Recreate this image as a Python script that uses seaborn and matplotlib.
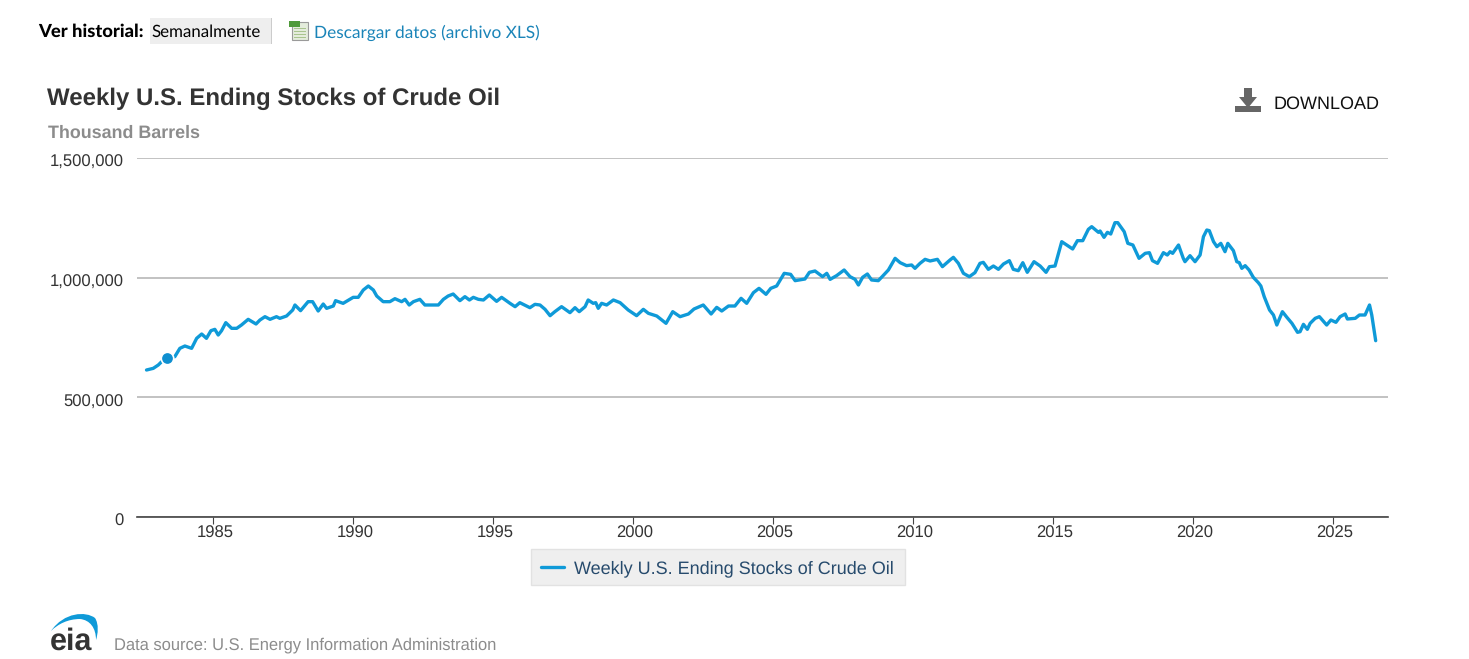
import matplotlib
matplotlib.use("Agg")
import matplotlib.pyplot as plt
import seaborn as sns
from matplotlib.patches import Rectangle, Polygon, PathPatch
from matplotlib.path import Path
from matplotlib.ticker import FuncFormatter
from matplotlib.transforms import ScaledTranslation

# Values: decimal year, thousand barrels
years = [
    1982.63, 1982.87, 1983.05, 1983.17, 1983.35, 1983.64, 1983.82, 1984.00, 1984.24, 1984.42,
    1984.60, 1984.77, 1984.93, 1985.07, 1985.19, 1985.31, 1985.46, 1985.67, 1985.85, 1986.02,
    1986.26, 1986.54, 1986.68, 1986.86, 1987.04, 1987.27, 1987.39, 1987.63, 1987.85, 1987.93,
    1988.13, 1988.40, 1988.56, 1988.76, 1988.94, 1989.06, 1989.30, 1989.38, 1989.65, 1989.89,
    1990.01, 1990.19, 1990.37, 1990.55, 1990.73, 1990.85, 1991.08, 1991.32, 1991.50, 1991.74,
    1991.86, 1992.01, 1992.16, 1992.39, 1992.57, 1992.81, 1993.05, 1993.23, 1993.40, 1993.58,
    1993.82, 1994.00, 1994.16, 1994.30, 1994.48, 1994.66, 1994.87, 1995.13, 1995.31, 1995.61,
    1995.79, 1995.96, 1996.32, 1996.50, 1996.68, 1996.86, 1997.04, 1997.21, 1997.45, 1997.75,
    1997.93, 1998.08, 1998.29, 1998.40, 1998.58, 1998.67, 1998.76, 1998.88, 1999.06, 1999.30,
    1999.54, 1999.83, 2000.13, 2000.37, 2000.55, 2000.85, 2001.18, 2001.42, 2001.68, 2001.98,
    2002.18, 2002.51, 2002.79, 2002.99, 2003.17, 2003.41, 2003.64, 2003.86, 2004.06, 2004.30,
    2004.50, 2004.75, 2004.92, 2005.13, 2005.40, 2005.63, 2005.79, 2006.14, 2006.30, 2006.50,
    2006.77, 2006.92, 2007.04, 2007.27, 2007.54, 2007.75, 2007.93, 2008.05, 2008.20, 2008.37,
    2008.52, 2008.76, 2008.92, 2009.12, 2009.36, 2009.54, 2009.77, 2009.95, 2010.07, 2010.25,
    2010.43, 2010.61, 2010.87, 2011.05, 2011.32, 2011.44, 2011.62, 2011.80, 2012.01, 2012.21,
    2012.39, 2012.51, 2012.69, 2012.87, 2013.05, 2013.23, 2013.44, 2013.58, 2013.76, 2013.92,
    2014.08, 2014.32, 2014.54, 2014.75, 2014.87, 2015.07, 2015.31, 2015.49, 2015.70, 2015.87,
    2016.06, 2016.26, 2016.38, 2016.62, 2016.68, 2016.82, 2016.94, 2017.06, 2017.21, 2017.31,
    2017.54, 2017.67, 2017.85, 2018.07, 2018.29, 2018.44, 2018.55, 2018.73, 2018.94, 2019.08,
    2019.18, 2019.27, 2019.48, 2019.65, 2019.71, 2019.89, 2020.07, 2020.25, 2020.37, 2020.49,
    2020.58, 2020.73, 2020.85, 2020.99, 2021.14, 2021.24, 2021.44, 2021.56, 2021.65, 2021.74,
    2021.86, 2022.00, 2022.15, 2022.33, 2022.42, 2022.54, 2022.73, 2022.87, 2022.99, 2023.19,
    2023.35, 2023.53, 2023.73, 2023.82, 2023.94, 2024.08, 2024.18, 2024.36, 2024.51, 2024.77,
    2024.92, 2025.10, 2025.25, 2025.43, 2025.51, 2025.79, 2025.94, 2026.14, 2026.30, 2026.38,
    2026.52,
]
stocks = [
    614.2, 621.1, 635.1, 649.0, 665.7, 669.9, 704.7, 714.5, 704.7, 746.5,
    764.6, 746.5, 778.5, 784.1, 760.4, 778.5, 812.0, 788.3, 788.3, 802.2,
    825.9, 806.4, 823.1, 837.0, 825.9, 837.0, 830.1, 839.8, 864.9, 885.8,
    862.1, 899.7, 899.7, 860.7, 889.9, 871.8, 881.6, 903.9, 892.7, 909.4,
    917.8, 917.8, 948.4, 965.2, 948.4, 923.4, 899.7, 899.7, 912.2, 899.7,
    909.4, 885.8, 899.7, 909.4, 885.8, 885.8, 885.8, 909.4, 923.4, 931.7,
    903.9, 920.6, 906.7, 917.8, 909.4, 906.7, 927.6, 901.1, 917.8, 892.7,
    878.8, 895.5, 874.6, 888.6, 885.8, 867.7, 841.2, 857.9, 878.8, 853.8,
    874.6, 857.9, 878.8, 906.7, 892.8, 895.6, 871.9, 892.8, 885.8, 906.7,
    895.6, 864.9, 841.2, 867.7, 851.0, 839.8, 809.2, 857.9, 837.0, 848.2,
    869.1, 885.8, 848.2, 876.0, 860.7, 881.6, 881.6, 913.7, 892.8, 937.3,
    955.4, 930.4, 955.4, 965.2, 1018.1, 1013.9, 987.5, 994.4, 1022.3, 1027.9,
    1004.2, 1018.1, 993.0, 1008.4, 1032.1, 1004.2, 993.0, 969.4, 1001.4, 1015.3,
    990.3, 987.5, 1007.0, 1032.1, 1080.8, 1062.7, 1050.2, 1053.0, 1039.0, 1059.9,
    1076.6, 1069.7, 1076.6, 1046.0, 1073.8, 1084.9, 1059.9, 1018.1, 1004.2, 1020.9,
    1059.9, 1064.0, 1034.8, 1048.7, 1034.8, 1057.1, 1071.0, 1034.8, 1029.2, 1062.6,
    1022.3, 1066.8, 1048.7, 1022.3, 1045.9, 1048.7, 1150.4, 1136.5, 1119.8, 1154.6,
    1154.6, 1201.9, 1213.1, 1189.4, 1195.0, 1168.5, 1189.4, 1182.4, 1229.8, 1229.8,
    1192.2, 1143.4, 1136.5, 1080.8, 1101.7, 1104.4, 1071.0, 1059.9, 1104.4, 1094.7,
    1108.6, 1101.7, 1136.5, 1080.8, 1066.8, 1091.9, 1066.8, 1094.7, 1171.3, 1199.1,
    1196.4, 1150.4, 1129.5, 1143.4, 1108.6, 1143.4, 1112.8, 1066.8, 1062.6, 1039.0,
    1050.1, 1032.0, 1001.4, 979.1, 965.2, 920.6, 864.9, 844.0, 802.2, 857.9,
    834.2, 809.2, 771.6, 774.3, 805.0, 784.1, 809.2, 830.1, 837.0, 802.2,
    823.1, 813.4, 837.0, 848.2, 827.3, 830.1, 844.0, 844.0, 885.8, 844.0,
    736.7,
]
stocks = [s * 1000 for s in stocks]

marker_year = [1983.35]
marker_value = [665700]

x_ticks = [1985, 1990, 1995, 2000, 2005, 2010, 2015, 2020, 2025]
y_ticks = [0, 500000, 1000000, 1500000]
series_name = "Weekly U.S. Ending Stocks of Crude Oil"

W, H = 1469, 659
BLUE = "#0f9ad8"


def fx(px):
    return px / W


def fy(py):
    return 1 - py / H


def page_rect(x0, y0, x1, y1, color, **kw):
    # rectangle given in page pixels, y measured from the top
    fig.add_artist(Rectangle((fx(x0), fy(y1)), (x1 - x0) / W, (y1 - y0) / H,
                             transform=fig.transFigure, facecolor=color,
                             edgecolor=kw.pop("edgecolor", "none"), **kw))


sns.set_style("white")
plt.rcParams["font.family"] = ["Liberation Sans", "DejaVu Sans"]
plt.rcParams["text.hinting"] = "none"

fig = plt.figure(figsize=(W / 100, H / 100), dpi=100)
ax = fig.add_axes([fx(137), fy(517), (1388 - 137) / W, (517 - 158) / H])

sns.lineplot(x=years, y=stocks, ax=ax, color=BLUE, linewidth=2.4, sort=False,
             errorbar=None, label=series_name)
sns.scatterplot(x=marker_year, y=marker_value, ax=ax, color="#0f8fd0", s=80,
                edgecolor="white", linewidth=1.2, zorder=5, legend=False)

ax.set_xlim(1982.29, 2026.96)
ax.set_ylim(0, 1500000)
ax.set_xticks(x_ticks)
ax.set_yticks(y_ticks)
ax.yaxis.set_major_formatter(FuncFormatter(lambda v, _: f"{int(v):,}"))
ax.grid(axis="y", color="#b8b8b8", linewidth=1.2)
ax.set_axisbelow(True)
for side in ["top", "left", "right"]:
    ax.spines[side].set_visible(False)
ax.spines["bottom"].set_color("#444444")
ax.spines["bottom"].set_linewidth(1.2)
ax.tick_params(axis="x", bottom=True, length=5, width=0.8, color="#444444",
               labelsize=12, labelcolor="#333333", pad=0.8)
ax.tick_params(axis="y", left=False, length=0, labelsize=12, labelcolor="#333333", pad=9.4)

# Tick labels sit a little off their ticks in the original
shift_x = ScaledTranslation(2 / 100, 0, fig.dpi_scale_trans)
shift_y = ScaledTranslation(0, -3 / 100, fig.dpi_scale_trans)
for lab in ax.get_xticklabels():
    lab.set_transform(lab.get_transform() + shift_x)
for lab in ax.get_yticklabels():
    lab.set_transform(lab.get_transform() + shift_y)

# Legend box is drawn by hand so the entry can sit below its centre
page_rect(530.5, 548.5, 904.5, 584.5, "#efefef", edgecolor="#e2e2e2", linewidth=1, zorder=-1)
leg = ax.legend(loc="center", bbox_to_anchor=(fx(717.5), fy(569)),
                bbox_transform=fig.transFigure, frameon=False, fontsize=13,
                handlelength=1.3, handletextpad=0.55, borderpad=0, borderaxespad=0)
leg.get_texts()[0].set_color("#274b6d")

# Chart headings
fig.text(fx(47), fy(105), series_name, fontsize=17.3, fontweight="bold", color="#333333")
fig.text(fx(48), fy(138), "Thousand Barrels", fontsize=12.9, fontweight="bold", color="#8c8c8c")
fig.text(fx(1274), fy(109), "DOWNLOAD", fontsize=13, color="#111111")
fig.text(fx(114), fy(649), "Data source: U.S. Energy Information Administration",
         fontsize=11.9, color="#8c8c8c")

# Page header above the chart
page_rect(150, 18, 271, 44, "#eeeeee")
page_rect(271, 18, 272, 44, "#cccccc")
fig.text(fx(38), fy(37), "Ver historial:", family="Lato", fontsize=13.2, fontweight="black",
         color="black")
fig.text(fx(151), fy(37), "Semanalmente", family="Lato", fontsize=12.2, color="black")
fig.text(fx(314), fy(38), "Descargar datos (archivo XLS)", family="Lato", fontsize=12.45,
         color="#1a84b8")

# Spreadsheet icon
page_rect(292, 22, 308, 40, "#e4ecdc", edgecolor="#9a9a9a", linewidth=0.8)
for row in [28, 31, 34, 37]:
    page_rect(294, row, 306, row + 1, "#a9c48f")
page_rect(289, 21, 300, 27, "#4f9a3a")

# Download icon
page_rect(1235, 106, 1261, 112, "#666666")
fig.add_artist(Polygon([(fx(1244), fy(88)), (fx(1252), fy(88)), (fx(1252), fy(97)),
                        (fx(1257), fy(97)), (fx(1248), fy(108)), (fx(1239), fy(97)),
                        (fx(1244), fy(97))], transform=fig.transFigure,
                       facecolor="#666666", edgecolor="none"))

# EIA logo: wordmark plus crescent swoosh
fig.text(fx(50), fy(650), "eia", fontsize=22, fontweight="bold", color="#333333")
swoosh = Path(
    [(fx(51), fy(631)), (fx(64), fy(612)), (fx(86), fy(611)), (fx(95), fy(618)),
     (fx(99), fy(624)), (fx(98), fy(634)), (fx(96), fy(640)),
     (fx(96), fy(628)), (fx(90), fy(620)), (fx(80), fy(619)),
     (fx(68), fy(619)), (fx(58), fy(624)), (fx(51), fy(631))],
    [Path.MOVETO, Path.CURVE4, Path.CURVE4, Path.CURVE4,
     Path.CURVE4, Path.CURVE4, Path.CURVE4,
     Path.CURVE4, Path.CURVE4, Path.CURVE4,
     Path.CURVE4, Path.CURVE4, Path.CURVE4],
)
fig.add_artist(PathPatch(swoosh, transform=fig.transFigure, facecolor=BLUE, edgecolor="none"))

fig.savefig("out.png", dpi=100)
